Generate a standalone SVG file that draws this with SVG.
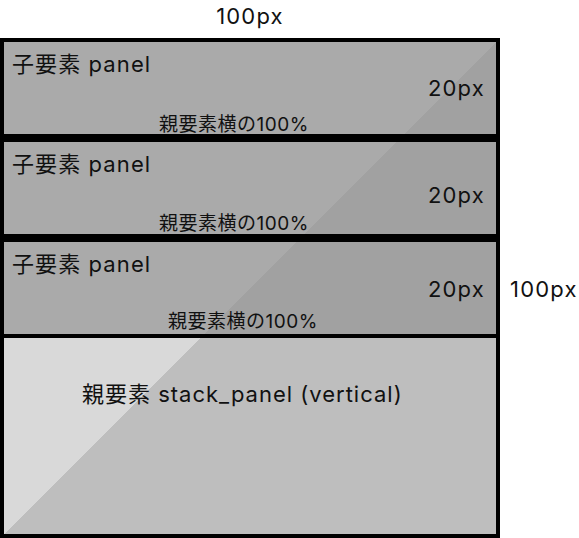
<svg xmlns="http://www.w3.org/2000/svg" width="579" height="538" viewBox="0 0 579 538">
<defs>
<linearGradient id="gParent" gradientUnits="userSpaceOnUse" x1="0" y1="38" x2="500" y2="538">
<stop offset="0.5" stop-color="#d9d9d9"/><stop offset="0.5" stop-color="#bebebe"/>
</linearGradient>
<linearGradient id="gChild" gradientUnits="userSpaceOnUse" x1="0" y1="38" x2="500" y2="538">
<stop offset="0.5" stop-color="#aaaaaa"/><stop offset="0.5" stop-color="#a1a1a1"/>
</linearGradient>
</defs>
<style>
text{font-family:"Inter","Noto Sans CJK JP",sans-serif;fill:#111}
.box{stroke:#000;stroke-width:4}
.title{font-size:22px;letter-spacing:1px}
.ctitle{font-size:22px;letter-spacing:1.1px}
.dim{font-size:22px;letter-spacing:1.2px}
.sub{font-size:19px;letter-spacing:0.5px;text-anchor:middle}
</style>
<g id="parent">
<rect class="box" x="2" y="40" width="496" height="496" fill="url(#gParent)"/>
<text class="title" x="82" y="402">親要素 stack_panel (vertical)</text>
</g>
<g id="child1">
<rect class="box" x="2" y="40" width="496" height="96" fill="url(#gChild)"/>
<text class="ctitle" x="12" y="72">子要素 panel</text>
<text class="dim" x="485" y="96" text-anchor="end">20px</text>
<text class="sub" x="234" y="131">親要素横の100%</text>
</g>
<g id="child2">
<rect class="box" x="2" y="140" width="496" height="96" fill="url(#gChild)"/>
<text class="ctitle" x="12" y="172">子要素 panel</text>
<text class="dim" x="485" y="203" text-anchor="end">20px</text>
<text class="sub" x="234" y="230">親要素横の100%</text>
</g>
<g id="child3">
<rect class="box" x="2" y="240" width="496" height="96" fill="url(#gChild)"/>
<text class="ctitle" x="12" y="272">子要素 panel</text>
<text class="dim" x="485" y="297" text-anchor="end">20px</text>
<text class="sub" x="243" y="328">親要素横の100%</text>
</g>
<g id="labels">
<text class="dim" x="250" y="24" text-anchor="middle">100px</text>
<text class="dim" x="510" y="297">100px</text>
</g>
<g id="connectors"/>
</svg>
